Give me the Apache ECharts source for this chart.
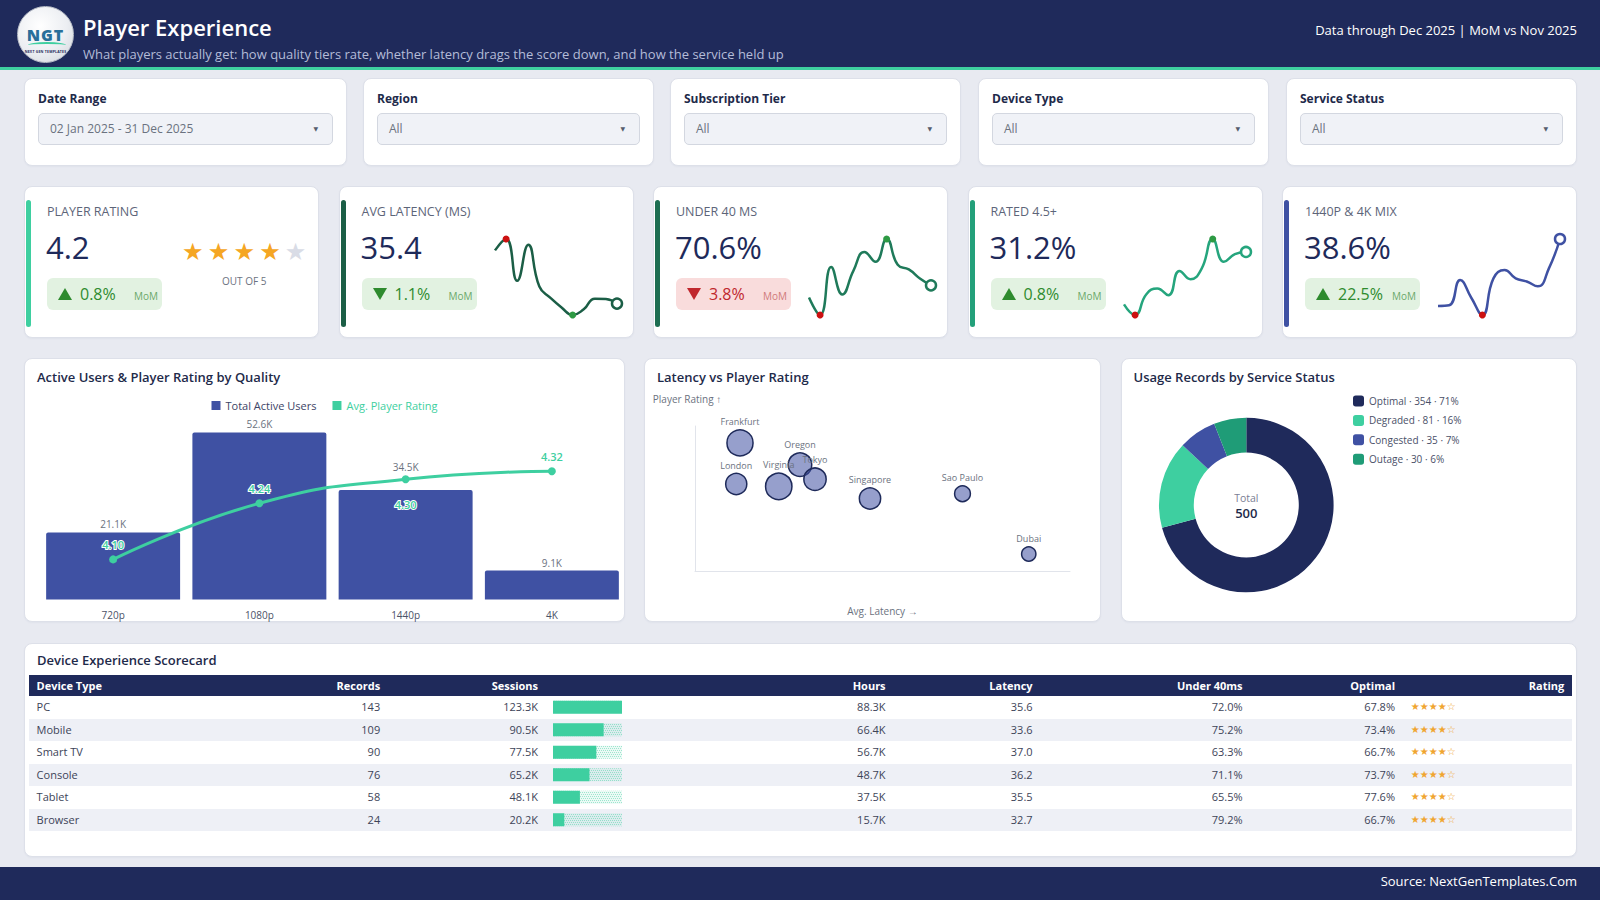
<!DOCTYPE html>
<html><head><meta charset="utf-8">
<script src="https://cdn.jsdelivr.net/npm/echarts@6/dist/echarts.min.js"></script>
<style>
*{box-sizing:border-box;margin:0;padding:0}
body{width:1600px;height:900px;overflow:hidden;background:#e8eaf1;font-family:"Open Sans","Noto Sans",sans-serif;color:#1e2a4a;position:relative}
.abs{position:absolute}
.card{position:absolute;background:#fff;border:1px solid #dde0e9;border-radius:8px;box-shadow:0 1px 2px rgba(30,42,90,0.04)}
#header{left:0;top:0;width:1600px;height:67px;background:#1f2a5b}
#teal{left:0;top:67px;width:1600px;height:3px;background:#3ecfa0}
#footer{left:0;top:867px;width:1600px;height:33px;background:#1f2a5b}
#logo{left:17px;top:6px;width:57px;height:57px;border-radius:50%;background:radial-gradient(circle at 40% 35%,#ffffff 0%,#eceef2 55%,#cfd3da 100%);border:1px solid #b9bec8;overflow:hidden}
#logo .ngt{position:absolute;left:0;width:100%;top:17px;text-align:center;font:800 16px "Open Sans",sans-serif;color:#2a6f9a;letter-spacing:1px}
#logo .sw{position:absolute;left:10px;top:35px;width:38px;height:6px;border-top:2px solid #3ecfa0;border-radius:50% 50% 0 0}
#logo .tiny{position:absolute;left:0;width:100%;top:42px;text-align:center;font:700 3.5px "Open Sans",sans-serif;color:#1f2a5b;letter-spacing:0.2px}
.ttl{font-weight:600;font-size:13px;line-height:18px;color:#1e2a4a;white-space:nowrap}
.flabel{position:absolute;left:13px;top:12px;font-weight:700;font-size:12px;line-height:16px;color:#1e2a4a}
.fsel{position:absolute;left:13px;right:13px;top:34px;height:32px;background:#f0f2f7;border:1px solid #d3d7e0;border-radius:5px;font-size:12px;line-height:30px;color:#6b7280;padding-left:11px;white-space:nowrap}
.fsel .arr{position:absolute;right:14px;top:0;font-size:6px;color:#555c6e;font-family:"DejaVu Sans",sans-serif}
.kacc{position:absolute;left:1px;top:13px;width:5px;height:127px;border-radius:3px}
.klabel{position:absolute;left:22px;top:17px;font-size:12.5px;line-height:16px;color:#5d6579;white-space:nowrap}
.kval{position:absolute;left:21px;top:41px;font-size:31px;line-height:38px;color:#1e2a5a;white-space:nowrap}
.badge{position:absolute;left:22px;top:91px;height:32px;width:115px;border-radius:6px;display:flex;align-items:center;padding-left:11px}
.tri{width:0;height:0;border-left:7px solid transparent;border-right:7px solid transparent}
.bval{display:inline-block;min-width:54px;margin-left:8px;font-size:16px;line-height:20px}
.bmom{font-size:10px;line-height:12px;margin-top:4px}
.spark{position:absolute;left:150px;top:44px;width:135px;height:92px}
.stars{position:absolute;top:50px;font-family:"DejaVu Sans",sans-serif;font-size:24px;line-height:30px;white-space:nowrap}
.stars span{display:inline-block;width:25.7px;text-align:center}
.th{position:absolute;top:0;font-weight:700;font-size:11px;line-height:21.5px;color:#fff;white-space:nowrap}
.td{position:absolute;top:0;font-size:11px;line-height:22.5px;color:#3d4458;white-space:nowrap}
.row{position:absolute;left:0;width:1543px;height:22.5px}
</style></head>
<body>
<div id="header" class="abs"></div>
<div id="teal" class="abs"></div>
<div id="logo" class="abs"><div class="ngt">NGT</div><div class="sw"></div><div class="tiny">NEXT GEN TEMPLATES</div></div>
<div class="abs" id="htitle" style="left:83px;top:13px;font-weight:600;font-size:22px;line-height:28px;color:#fff;white-space:nowrap"></div>
<div class="abs" id="hsub" style="left:83px;top:46px;font-size:13px;line-height:17px;color:#b4bcd8;white-space:nowrap"></div>
<div class="abs" id="hright" style="right:23px;top:21px;font-size:13px;line-height:18px;color:#fff;white-space:nowrap"></div>
<div id="footer" class="abs"></div>
<div class="abs" id="fsrc" style="right:23px;top:872px;font-size:13px;line-height:18px;color:#fff;white-space:nowrap"></div>
<div id="root"></div>
<script>
// ---------- text ----------
const headerTitle = 'Player Experience';
const headerSub = 'What players actually get: how quality tiers rate, whether latency drags the score down, and how the service held up';
const headerRight = 'Data through Dec 2025 | MoM vs Nov 2025';
const footerText = 'Source: NextGenTemplates.Com';

// ---------- filters ----------
const filterLabels = ['Date Range', 'Region', 'Subscription Tier', 'Device Type', 'Service Status'];
const filterValues = ['02 Jan 2025 - 31 Dec 2025', 'All', 'All', 'All', 'All'];

// ---------- KPIs ----------
const kpiLabels = ['PLAYER RATING', 'AVG LATENCY (MS)', 'UNDER 40 MS', 'RATED 4.5+', '1440P & 4K MIX'];
const kpiValues = ['4.2', '35.4', '70.6%', '31.2%', '38.6%'];
const kpiDeltas = [0.8, -1.1, -3.8, 0.8, 22.5];
const kpiGood = [true, true, false, true, true];
const playerRating = 4.2;
const ratingScale = 5;
const months = ['Jan','Feb','Mar','Apr','May','Jun','Jul','Aug','Sep','Oct','Nov','Dec'];
const latencyTrend = [36.2, 36.5, 35.4, 36.35, 35.25, 34.95, 34.7, 34.5, 34.65, 34.93, 34.92, 34.8];
const under40Trend = [68.3, 66.0, 72.3, 68.7, 71.8, 74.3, 73.0, 76.0, 72.6, 72.0, 70.8, 69.9];
const rated45Trend = [27.4, 26.0, 28.7, 29.5, 28.6, 31.8, 30.7, 32.1, 36.0, 33.0, 34.0, 34.3];
const mixTrend = [24.6, 24.8, 32.1, 27.0, 22.0, 32.6, 35.0, 32.6, 31.7, 30.3, 35.5, 44.0];

// ---------- quality chart ----------
const qualityTiers = ['720p', '1080p', '1440p', '4K'];
const activeUsers = [21100, 52600, 34500, 9100];
const avgRating = [4.10, 4.24, 4.30, 4.32];

// ---------- latency vs rating ----------
const regions = ['Frankfurt', 'London', 'Virginia', 'Oregon', 'Tokyo', 'Singapore', 'Sao Paulo', 'Dubai'];
const regionLatency = [28.6, 28.3, 31.7, 33.4, 34.6, 39.0, 46.4, 51.7];
const regionRating = [4.33, 4.16, 4.15, 4.24, 4.18, 4.10, 4.12, 3.87];
const regionRecords = [90, 59, 92, 73, 66, 60, 33, 27];

// ---------- service status ----------
const statuses = ['Optimal', 'Degraded', 'Congested', 'Outage'];
const statusCounts = [354, 81, 35, 30];

// ---------- scorecard ----------
const devices = ['PC', 'Mobile', 'Smart TV', 'Console', 'Tablet', 'Browser'];
const devRecords = [143, 109, 90, 76, 58, 24];
const devSessions = [123300, 90500, 77500, 65200, 48100, 20200];
const devHours = [88300, 66400, 56700, 48700, 37500, 15700];
const devLatency = [35.6, 33.6, 37.0, 36.2, 35.5, 32.7];
const devUnder40 = [72.0, 75.2, 63.3, 71.1, 65.5, 79.2];
const devOptimal = [67.8, 73.4, 66.7, 73.7, 77.6, 66.7];
const devRating = [4.21, 4.24, 4.17, 4.22, 4.26, 4.19];
const tableHeaders = ['Device Type', 'Records', 'Sessions', 'Hours', 'Latency', 'Under 40ms', 'Optimal', 'Rating'];

// ---------- colours ----------
const NAVY = '#1f2a5b', TEAL = '#3ecfa0', BLUE = '#3f51a3', OUT = '#1f9c77';
const FONT = '"Open Sans","Noto Sans",sans-serif';

document.getElementById('htitle').textContent = headerTitle;
document.getElementById('hsub').textContent = headerSub;
document.getElementById('hright').textContent = headerRight;
document.getElementById('fsrc').textContent = footerText;

const root = document.getElementById('root');
function el(tag, cls, style, parent, text) {
  const e = document.createElement(tag);
  if (cls) e.className = cls;
  if (style) e.style.cssText = style;
  if (text !== undefined) e.textContent = text;
  (parent || root).appendChild(e);
  return e;
}
const fmtK = v => (v / 1000).toFixed(1) + 'K';

// filters
const fLeft = [24, 363, 670, 978, 1286], fW = [323, 291, 291, 291, 291];
filterLabels.forEach((l, i) => {
  const c = el('div', 'card', `left:${fLeft[i]}px;top:78px;width:${fW[i]}px;height:88px`);
  el('div', 'flabel', '', c, l);
  const s = el('div', 'fsel', '', c, filterValues[i]);
  el('span', 'arr', '', s, '▼');
});

// KPI cards
const accents = ['#3ecfa0', '#1b5e46', '#1d6e52', '#23a07a', '#3f51a3'];
const sparkColors = [null, '#1b5e46', '#1f7a5a', '#25a57d', '#3f51a3'];
const trends = [null, latencyTrend, under40Trend, rated45Trend, mixTrend];
const invertTrend = [false, true, false, false, false];
const sparkEls = [];
kpiLabels.forEach((l, i) => {
  const c = el('div', 'card', `left:${24 + i * 314.5}px;top:186px;width:295px;height:152px`);
  el('div', 'kacc', `background:${accents[i]}`, c);
  el('div', 'klabel', '', c, l);
  el('div', 'kval', '', c, kpiValues[i]);
  const good = kpiGood[i];
  const b = el('div', 'badge', `background:${good ? '#e2f2e1' : '#f9dcdc'}`, c);
  const col = good ? '#2e8b2e' : '#c0272d';
  const up = kpiDeltas[i] >= 0;
  el('div', 'tri', up ? `border-bottom:12px solid ${col}` : `border-top:12px solid ${col}`, b);
  el('span', 'bval', `color:${col}`, b, Math.abs(kpiDeltas[i]).toFixed(1) + '%');
  el('span', 'bmom', `color:${good ? '#6aa86a' : '#d07a7a'}`, b, 'MoM');
  if (i === 0) {
    const st = el('div', 'stars', 'left:155px', c);
    for (let k = 1; k <= ratingScale; k++) {
      el('span', '', `color:${k <= Math.round(playerRating) ? '#f5a623' : '#d9dce6'}`, st, '★');
    }
    el('div', '', 'position:absolute;left:155px;width:128.5px;top:87px;text-align:center;font-size:10px;line-height:14px;color:#6b7280', c, 'OUT OF ' + ratingScale);
  } else {
    sparkEls.push([el('div', 'spark', '', c), i]);
  }
});

sparkEls.forEach(([d, i]) => {
  const data = trends[i], color = sparkColors[i], inv = invertTrend[i];
  const mx = Math.max(...data), mn = Math.min(...data), last = data.length - 1;
  const RED = '#cc1111', GRN = '#2e9a44';
  const items = data.map((v, k) => {
    if (k === last) return { value: v, symbol: 'circle', symbolSize: 10, itemStyle: { color: '#fff', borderColor: color, borderWidth: 2.5 } };
    if (v === mx) return { value: v, symbol: 'circle', symbolSize: 7, itemStyle: { color: inv ? RED : GRN, borderWidth: 0 } };
    if (v === mn) return { value: v, symbol: 'circle', symbolSize: 7, itemStyle: { color: inv ? GRN : RED, borderWidth: 0 } };
    return { value: v, symbol: 'none' };
  });
  const ch = echarts.init(d, null, { renderer: 'svg' });
  ch.setOption({
    animation: false,
    grid: { left: 5, right: 8, top: 8, bottom: 8 },
    xAxis: { type: 'category', show: false, boundaryGap: false, data: months },
    yAxis: { type: 'value', show: false, min: 'dataMin', max: 'dataMax', scale: true },
    series: [{ type: 'line', data: items, smooth: 0.5, showAllSymbol: true, silent: true,
      lineStyle: { color, width: 2.5 }, itemStyle: { color } }]
  });
});

// middle panels
const p1 = el('div', 'card', 'left:24px;top:358px;width:600.5px;height:263.5px');
const p2 = el('div', 'card', 'left:644px;top:358px;width:457px;height:263.5px');
const p3 = el('div', 'card', 'left:1120.5px;top:358px;width:456px;height:263.5px');
[p1, p2, p3].forEach((p, i) => {
  el('div', '', 'position:absolute;left:-1px;top:-1px;width:calc(100% + 2px);height:calc(100% + 2px)', p).id = 'ch' + i;
  el('div', 'ttl', 'position:absolute;left:12px;top:9px', p,
    ['Active Users & Player Rating by Quality', 'Latency vs Player Rating', 'Usage Records by Service Status'][i]);
});

// bar + line
const ratingLabelBelow = 2;   // tier whose rating label sits under its point (avoids the bar label)
echarts.init(document.getElementById('ch0'), null, { renderer: 'svg' }).setOption({
  animation: false,
  textStyle: { fontFamily: FONT },
  legend: {
    top: 37, left: 'center', icon: 'rect', itemWidth: 9, itemHeight: 9, itemGap: 16,
    textStyle: { fontSize: 11, fontFamily: FONT },
    data: [{ name: 'Total Active Users', textStyle: { color: '#3d4466' } }, { name: 'Avg. Player Rating', textStyle: { color: TEAL } }]
  },
  grid: { left: 16, right: 0, top: 41, bottom: 22.5 },
  xAxis: { type: 'category', data: qualityTiers, axisLine: { show: false }, axisTick: { show: false },
    axisLabel: { color: '#4b5268', fontSize: 10, margin: 10 } },
  yAxis: [
    { type: 'value', show: false, min: 0, max: v => v.max * 1.2, splitLine: { show: false } },
    { type: 'value', show: false, min: 4.0, max: 4.5, splitLine: { show: false } }
  ],
  series: [
    { name: 'Total Active Users', type: 'bar', barCategoryGap: '8.4%',
      data: activeUsers.map((v, i) => i === ratingLabelBelow ? { value: v, label: { distance: 18 } } : v),
      itemStyle: { color: BLUE, borderRadius: [2, 2, 0, 0] },
      label: { show: true, position: 'top', distance: 3, color: '#6b7280', fontSize: 10, formatter: p => fmtK(p.value) } },
    { name: 'Avg. Player Rating', type: 'line', yAxisIndex: 1, smooth: true,
      data: avgRating.map((v, i) => i === ratingLabelBelow ? { value: v, label: { position: 'bottom', distance: 16 } } : v),
      symbol: 'circle', symbolSize: 8, lineStyle: { color: TEAL, width: 3 }, itemStyle: { color: TEAL },
      label: { show: true, position: 'top', distance: 5, color: TEAL, fontSize: 11, fontWeight: 600,
        textBorderColor: '#fff', textBorderWidth: 2, formatter: p => p.value.toFixed(2) } }
  ]
});

// scatter
echarts.init(document.getElementById('ch1'), null, { renderer: 'svg' }).setOption({
  animation: false,
  textStyle: { fontFamily: FONT },
  grid: { left: 51, right: 31, top: 68, bottom: 51 },
  xAxis: { type: 'value', min: 25, max: 55, name: 'Avg. Latency →', nameLocation: 'middle', nameGap: 35,
    nameTextStyle: { color: '#6b7280', fontSize: 10 },
    axisLine: { show: true, lineStyle: { color: '#e1e4eb' } }, axisTick: { show: false }, axisLabel: { show: false }, splitLine: { show: false } },
  yAxis: { type: 'value', min: 3.8, max: 4.4, name: 'Player Rating ↑', nameLocation: 'end', nameGap: 22,
    nameTextStyle: { color: '#6b7280', fontSize: 10, padding: [0, 16, 0, 0] },
    axisLine: { show: true, lineStyle: { color: '#e1e4eb' } }, axisTick: { show: false }, axisLabel: { show: false }, splitLine: { show: false } },
  series: [{
    type: 'scatter',
    data: regions.map((r, i) => [regionLatency[i], regionRating[i], regionRecords[i], r]),
    symbolSize: d => 2.75 * Math.sqrt(d[2]),
    itemStyle: { color: 'rgba(63,81,163,0.55)', borderColor: '#1e2a5a', borderWidth: 1.5, opacity: 1 },
    label: { show: true, position: 'top', distance: 3, color: '#6b7280', fontSize: 9, formatter: p => p.data[3] }
  }]
});

// donut
const totalRecords = statusCounts.reduce((a, b) => a + b, 0);
echarts.init(document.getElementById('ch2'), null, { renderer: 'svg' }).setOption({
  animation: false,
  textStyle: { fontFamily: FONT },
  color: [NAVY, TEAL, BLUE, OUT],
  legend: {
    orient: 'vertical', left: 227, top: 31, icon: 'roundRect', itemWidth: 11, itemHeight: 11, itemGap: 5.4,
    textStyle: { fontSize: 10, color: '#4a5068', lineHeight: 14, fontFamily: FONT },
    formatter: n => { const i = statuses.indexOf(n); return n + ' · ' + statusCounts[i] + ' · ' + Math.round(statusCounts[i] / totalRecords * 100) + '%'; }
  },
  graphic: [
    { type: 'text', x: 125.3, y: 140, style: { text: 'Total', align: 'center', verticalAlign: 'middle', fill: '#7a8094', font: '10.5px ' + FONT } },
    { type: 'text', x: 125.3, y: 155, style: { text: String(totalRecords), align: 'center', verticalAlign: 'middle', fill: '#1e2a4a', font: '600 13px ' + FONT } }
  ],
  series: [{ type: 'pie', radius: [52.5, 87.3], center: [125.3, 147], startAngle: 90, silent: true,
    label: { show: false }, labelLine: { show: false }, itemStyle: { borderWidth: 0 },
    data: statuses.map((s, i) => ({ name: s, value: statusCounts[i] })) }]
});

// scorecard table
const tp = el('div', 'card', 'left:24px;top:643px;width:1553px;height:214px');
el('div', 'ttl', 'position:absolute;left:12px;top:7px', tp, 'Device Experience Scorecard');
const tbl = el('div', '', 'position:absolute;left:3.6px;top:30.5px;width:1543px;height:160px', tp);
const hdr = el('div', '', `position:absolute;left:0;top:0;width:1543px;height:21.5px;background:${NAVY}`, tbl);
const cols = [['l', 8], ['r', 351.6], ['r', 509.4], ['r', 857], ['r', 1004], ['r', 1214], ['r', 1366.4], ['r', 1535.7]];
const pos = c => c[0] === 'l' ? `left:${c[1]}px` : `right:${1543 - c[1]}px`;
tableHeaders.forEach((h, i) => el('div', 'th', pos(cols[i]), hdr, h));
devices.forEach((d, r) => {
  const row = el('div', 'row', `top:${21.5 + r * 22.5}px;background:${r % 2 ? '#eef0f6' : '#fff'}`, tbl);
  const vals = [d, String(devRecords[r]), fmtK(devSessions[r]), fmtK(devHours[r]), devLatency[r].toFixed(1),
    devUnder40[r].toFixed(1) + '%', devOptimal[r].toFixed(1) + '%'];
  vals.forEach((v, i) => el('div', 'td', pos(cols[i]), row, v));
  const full = Math.round(devRating[r]);
  el('div', 'td', 'left:1382.2px;color:#f0a530;font-family:"DejaVu Sans",sans-serif;font-size:10px', row,
    '★'.repeat(full) + '☆'.repeat(ratingScale - full));
});
const barDiv = el('div', '', 'position:absolute;left:524.4px;top:21.5px;width:69px;height:135px', tbl);
const maxSessions = Math.max(...devSessions);
echarts.init(barDiv, null, { renderer: 'svg' }).setOption({
  animation: false,
  grid: { left: 0, right: 0, top: 0, bottom: 0 },
  xAxis: { type: 'value', show: false, min: 0, max: maxSessions },
  yAxis: { type: 'category', show: false, inverse: true, data: devices },
  series: [
    { type: 'bar', data: devices.map(() => maxSessions), barWidth: 13, barGap: '-100%', silent: true,
      itemStyle: { color: 'rgba(62,207,160,0.10)',
        decal: { symbol: 'rect', symbolSize: 1, color: 'rgba(62,207,160,0.45)', dashArrayX: [[1, 1], [0, 1, 1, 0]], dashArrayY: [1, 1] } } },
    { type: 'bar', data: devSessions, barWidth: 13, silent: true, itemStyle: { color: TEAL } }
  ]
});
</script>
</body></html>
